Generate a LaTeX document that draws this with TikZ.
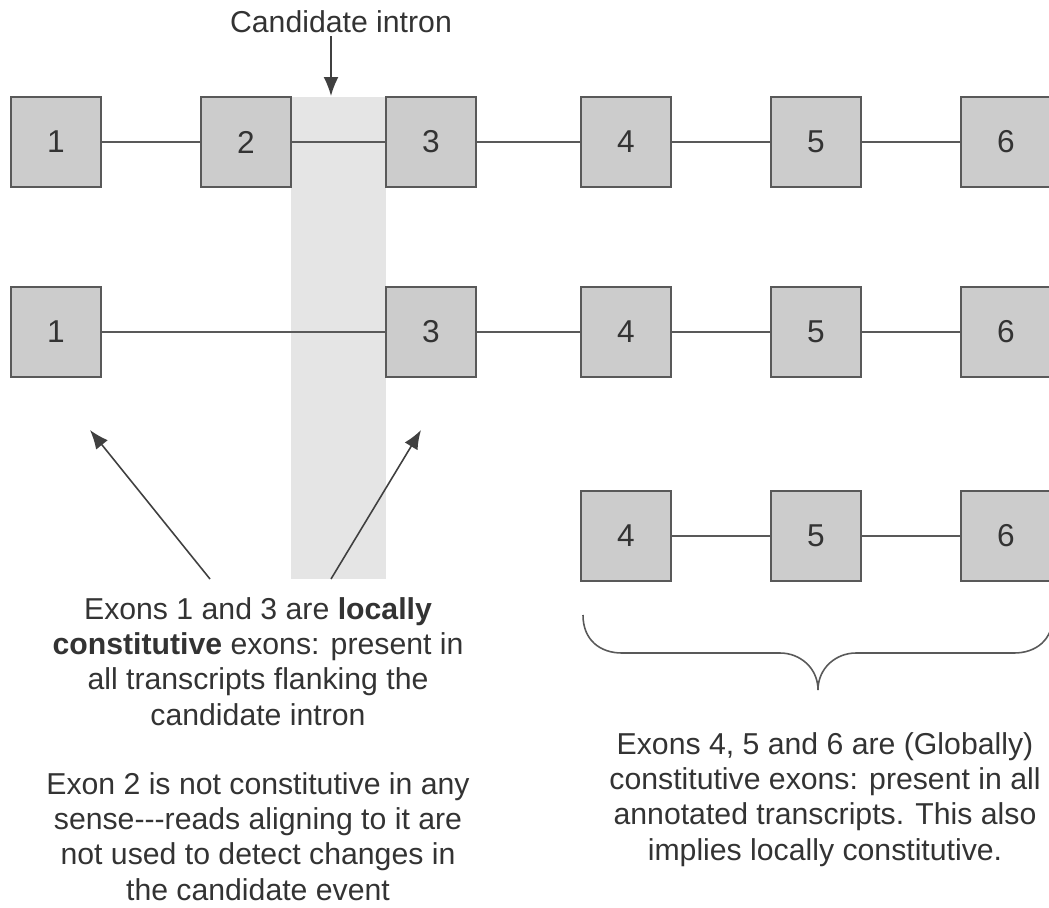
\documentclass[tikz,border=0pt]{standalone}
\usepackage{fontspec}
\setmainfont{Liberation Sans}
\usetikzlibrary{arrows.meta}

\definecolor{exonfill}{HTML}{CCCCCC}
\definecolor{edge}{HTML}{595959}
\definecolor{ink}{HTML}{333333}
\definecolor{bandfill}{HTML}{E5E5E5}

\tikzset{
  exon/.style={draw=edge, line width=1pt, fill=exonfill, minimum size=1.8cm,
    inner sep=0pt, text=ink, font=\fontsize{18}{20}\selectfont},
  intronline/.style={draw=edge, line width=0.9pt},
  pointer/.style={draw=black!75, line width=0.9pt, -{Latex[length=0.38cm,width=0.3cm]}},
  note/.style={align=center, text=ink, font=\fontsize{17.2}{20.1}\selectfont, inner sep=0pt}
}

\begin{document}
\begin{tikzpicture}[x=0.02cm, y=-0.02cm]
    \useasboundingbox (0,0) rectangle (1049,907);
    % Shade the candidate intron
    \fill[bandfill] (291,97) rectangle (386,579);
    % First transcript
    \node[exon] (a1) at (56,142) {1};
    \node[exon] (a2) at (246,142) {2};
    \node[exon] (a3) at (431,142) {3};
    \node[exon] (a4) at (626,142) {4};
    \node[exon] (a5) at (816,142) {5};
    \node[exon] (a6) at (1006,142) {6};
    \draw[intronline] (a1) -- (a2) (a2) -- (a3) (a3) -- (a4) (a4) -- (a5) (a5) -- (a6);
    % Second transcript, exon 2 skipped
    \node[exon] (b1) at (56,332) {1};
    \node[exon] (b3) at (431,332) {3};
    \node[exon] (b4) at (626,332) {4};
    \node[exon] (b5) at (816,332) {5};
    \node[exon] (b6) at (1006,332) {6};
    \draw[intronline] (b1) -- (b3) (b3) -- (b4) (b4) -- (b5) (b5) -- (b6);
    % Third transcript
    \node[exon] (c4) at (626,536) {4};
    \node[exon] (c5) at (816,536) {5};
    \node[exon] (c6) at (1006,536) {6};
    \draw[intronline] (c4) -- (c5) (c5) -- (c6);
    % Label the candidate intron
    \node[note, anchor=south] (intron) at (341,33) {Candidate intron};
    \coordinate (bandtop) at (331,96);
    \draw[pointer] (331,36) -- (bandtop);
    % Pointers to the locally constitutive exons
    \node[note, anchor=north] (localnote) at (258,597)
      {Exons 1 and 3 are \textbf{locally}\\
       \textbf{constitutive} exons: present in\\
       all transcripts flanking the\\
       candidate intron};
    \node[note, anchor=north] (skipnote) at (258,772)
      {Exon 2 is not constitutive in any\\
       sense-{}-{}-reads aligning to it are\\
       not used to detect changes in\\
       the candidate event};
    \coordinate (leftfoot) at (210,579);
    \coordinate (rightfoot) at (331,579);
    \coordinate (lefthead) at (90,430);
    \coordinate (righthead) at (421,430);
    \draw[pointer] (leftfoot) -- (lefthead);
    \draw[pointer] (rightfoot) -- (righthead);
    % Brace under exons 4 to 6
    \draw[draw=edge, line width=0.9pt] (583,615) .. controls (583,640) and (600,653) .. (622,653)
      -- (780,653) .. controls (800,653) and (818,668) .. (818,690)
      .. controls (818,668) and (836,653) .. (856,653)
      -- (1014,653) .. controls (1036,653) and (1053,640) .. (1053,615);
    \node[note, anchor=north] (globalnote) at (825,732)
      {Exons 4, 5 and 6 are (Globally)\\
       constitutive exons: present in all\\
       annotated transcripts. This also\\
       implies locally constitutive.};
\end{tikzpicture}
\end{document}
